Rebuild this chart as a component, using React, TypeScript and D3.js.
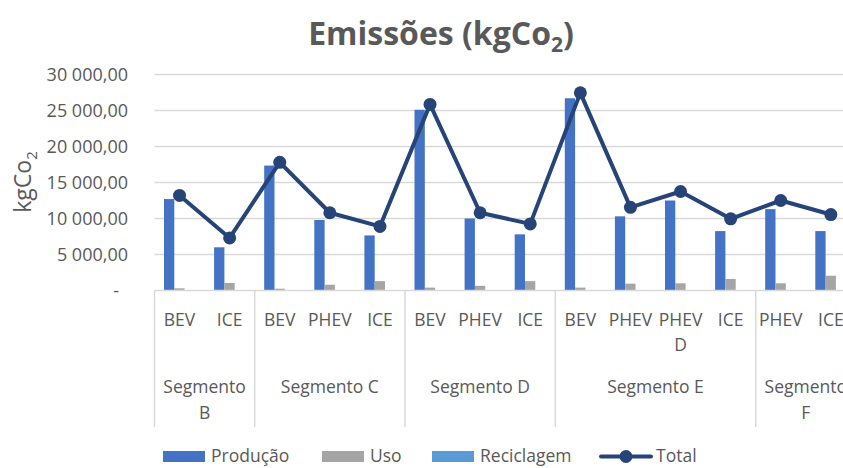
import { useRef, useEffect } from 'react'
import * as d3 from 'd3'

// categories (bottom level) and the segment each one belongs to
const vehicles = ['BEV', 'ICE', 'BEV', 'PHEV', 'ICE', 'BEV', 'PHEV', 'ICE', 'BEV', 'PHEV', 'PHEV D', 'ICE', 'PHEV', 'ICE']
const vehicleSegment = ['B', 'B', 'C', 'C', 'C', 'D', 'D', 'D', 'E', 'E', 'E', 'E', 'F', 'F']
const segments = ['B', 'C', 'D', 'E', 'F']

// series values (kgCO2)
const producao = [12700, 6000, 17350, 9800, 7650, 25100, 10000, 7800, 26700, 10300, 12500, 8250, 11300, 8250]
const uso = [300, 1050, 250, 800, 1300, 400, 650, 1300, 400, 950, 1000, 1600, 1000, 2050]
const reciclagem = [30, 20, 30, 25, 20, 35, 25, 20, 35, 25, 25, 20, 25, 20]
const total = [13200, 7300, 17800, 10800, 8900, 25850, 10800, 9250, 27450, 11550, 13750, 9950, 12500, 10550]

const yTicks = [0, 5000, 10000, 15000, 20000, 25000, 30000]
const barSeries = ['Produção', 'Uso', 'Reciclagem']
const barColors = ['#4472C4', '#A5A5A5', '#5B9BD5']
const lineColor = '#264478'

const FONT = '"Open Sans", "Liberation Sans", sans-serif'
const TEXT = '#595959'
const GRID = '#D9D9D9'

export default function App() {
  const svgRef = useRef<SVGSVGElement>(null)
  const width = 843
  const height = 468

  useEffect(() => {
    if (!svgRef.current) return
    const svg = d3.select(svgRef.current)
    svg.selectAll('*').remove()

    const plotLeft = 154.5
    const bandW = 50.1
    const plotRight = plotLeft + bandW * vehicles.length

    const x = d3.scaleBand<number>()
      .domain(d3.range(vehicles.length))
      .range([plotLeft, plotRight])
    const xSub = d3.scaleBand<string>()
      .domain(barSeries)
      .range([9.5, 40.4])
    const y = d3.scaleLinear().domain([0, 30000]).range([290.5, 74.5])

    const locale = d3.formatLocale({ decimal: ',', thousands: ' ', grouping: [3], currency: ['', ''] })
    const fmt = locale.format(',.2f')

    // title
    const title = svg.append('text')
      .attr('x', 441).attr('y', 45)
      .attr('text-anchor', 'middle')
      .attr('font-family', FONT).attr('font-weight', 700)
      .attr('font-size', 32).attr('fill', TEXT)
    title.append('tspan').text('Emissões (kgCo')
    title.append('tspan').attr('font-size', 21).attr('dy', 7).text('2')
    title.append('tspan').attr('dy', -7).text(')')

    // y axis title
    const yTitle = svg.append('text')
      .attr('transform', 'translate(31,182) rotate(-90)')
      .attr('text-anchor', 'middle')
      .attr('font-family', FONT).attr('font-size', 23).attr('fill', TEXT)
    yTitle.append('tspan').text('kgCo')
    yTitle.append('tspan').attr('font-size', 15).attr('dy', 6).text('2')

    // gridlines
    svg.append('g').selectAll('line')
      .data(yTicks.filter(t => t > 0))
      .join('line')
      .attr('x1', plotLeft).attr('x2', plotRight)
      .attr('y1', d => y(d)).attr('y2', d => y(d))
      .attr('stroke', GRID).attr('stroke-width', 1.5)

    // y tick labels
    svg.append('g').selectAll('text')
      .data(yTicks)
      .join('text')
      .attr('x', d => (d === 0 ? 119 : 128))
      .attr('y', d => y(d))
      .attr('dy', '0.35em')
      .attr('text-anchor', 'end')
      .attr('font-family', FONT).attr('font-size', 18).attr('fill', TEXT)
      .text(d => (d === 0 ? '-' : fmt(d)))

    // bars
    const barData = [producao, uso, reciclagem]
    barSeries.forEach((name, si) => {
      svg.append('g').selectAll('rect')
        .data(barData[si])
        .join('rect')
        .attr('x', (_, i) => (x(i) as number) + (xSub(name) as number))
        .attr('width', xSub.bandwidth())
        .attr('y', d => y(d))
        .attr('height', d => y(0) - y(d))
        .attr('fill', barColors[si])
    })

    // x axis line + group separators
    const axisBottom = 427
    svg.append('line')
      .attr('x1', plotLeft).attr('x2', plotRight)
      .attr('y1', y(0)).attr('y2', y(0))
      .attr('stroke', GRID).attr('stroke-width', 1.5)

    const groups = segments.map(s => {
      const idx = vehicleSegment.map((v, i) => (v === s ? i : -1)).filter(i => i >= 0)
      const x0 = x(idx[0]) as number
      const x1 = (x(idx[idx.length - 1]) as number) + x.bandwidth()
      return { name: 'Segmento ' + s, x0, x1 }
    })
    svg.append('g').selectAll('line')
      .data([...groups.map(g => g.x0), plotRight])
      .join('line')
      .attr('x1', d => d).attr('x2', d => d)
      .attr('y1', y(0)).attr('y2', axisBottom)
      .attr('stroke', GRID).attr('stroke-width', 1.5)

    // wrap text into lines that fit maxWidth
    const wrapLines = (label: string, maxWidth: number, size: number) => {
      const probe = svg.append('text').attr('font-family', FONT).attr('font-size', size)
      const words = label.split(' ')
      const lines: string[] = []
      let current = ''
      words.forEach(w => {
        const test = current ? current + ' ' + w : w
        probe.text(test)
        if (current && (probe.node() as SVGTextElement).getComputedTextLength() > maxWidth) {
          lines.push(current)
          current = w
        } else {
          current = test
        }
      })
      lines.push(current)
      probe.remove()
      return lines
    }

    const drawLabel = (label: string, cx: number, top: number, maxWidth: number, size: number, lh: number) => {
      const lines = wrapLines(label, maxWidth, size)
      const t = svg.append('text')
        .attr('text-anchor', 'middle')
        .attr('font-family', FONT).attr('font-size', size).attr('fill', TEXT)
      lines.forEach((ln, k) => {
        t.append('tspan').attr('x', cx).attr('y', top + k * lh).text(ln)
      })
    }

    vehicles.forEach((v, i) => {
      drawLabel(v, (x(i) as number) + x.bandwidth() / 2, 326, x.bandwidth() - 3, 17.5, 25)
    })
    groups.forEach(g => {
      drawLabel(g.name, (g.x0 + g.x1) / 2, 393, g.x1 - g.x0 - 8, 17.5, 26)
    })

    // total line
    const line = d3.line<number>()
      .x((_, i) => (x(i) as number) + x.bandwidth() / 2)
      .y(d => y(d))
    svg.append('path')
      .datum(total)
      .attr('fill', 'none')
      .attr('stroke', lineColor).attr('stroke-width', 4)
      .attr('stroke-linejoin', 'round').attr('stroke-linecap', 'round')
      .attr('d', line)
    svg.append('g').selectAll('circle')
      .data(total)
      .join('circle')
      .attr('cx', (_, i) => (x(i) as number) + x.bandwidth() / 2)
      .attr('cy', d => y(d))
      .attr('r', 6.5)
      .attr('fill', lineColor)

    // legend
    const legendSwatchX = [163, 322, 432]
    const legend = svg.append('g')
    barSeries.forEach((name, i) => {
      legend.append('rect')
        .attr('x', legendSwatchX[i]).attr('y', 451)
        .attr('width', 42).attr('height', 11)
        .attr('fill', barColors[i])
      legend.append('text')
        .attr('x', legendSwatchX[i] + 48).attr('y', 462)
        .attr('font-family', FONT).attr('font-size', 17.5).attr('fill', TEXT)
        .text(name)
    })
    legend.append('line')
      .attr('x1', 601).attr('x2', 651).attr('y1', 456.5).attr('y2', 456.5)
      .attr('stroke', lineColor).attr('stroke-width', 4).attr('stroke-linecap', 'round')
    legend.append('circle').attr('cx', 626).attr('cy', 456.5).attr('r', 6.5).attr('fill', lineColor)
    legend.append('text')
      .attr('x', 656).attr('y', 462)
      .attr('font-family', FONT).attr('font-size', 17.5).attr('fill', TEXT)
      .text('Total')
  }, [])

  return (
    <svg
      ref={svgRef}
      width={width}
      height={height}
      style={{ position: 'absolute', left: 0, top: 0, background: '#fff' }}
    />
  )
}
